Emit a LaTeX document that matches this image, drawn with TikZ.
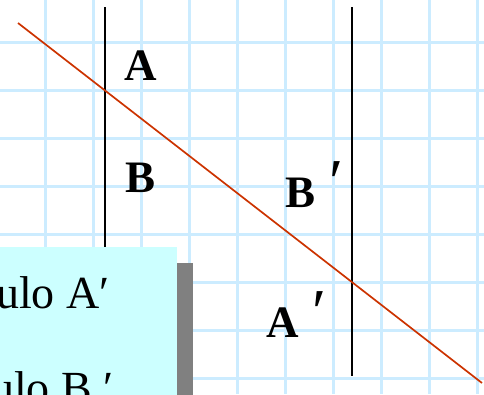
\documentclass[tikz,border=0pt]{standalone}
\usepackage{fontspec}
\setmainfont{Liberation Serif}
\usetikzlibrary{calc}
\definecolor{gridblue}{HTML}{CCECFF}
\definecolor{linered}{HTML}{CC3300}
\definecolor{boxcyan}{HTML}{CCFFFF}
\definecolor{shadowgray}{HTML}{808080}

\newcommand{\bigprime}{\kern3bp\raisebox{0.08em}{\mdseries\fontsize{64bp}{64bp}\selectfont ′}}

\tikzset{
  gridline/.style={gridblue, line width=3bp},
  parline/.style={black, line width=2bp},
  transline/.style={linered, line width=1.7bp},
  anglabel/.style={font=\fontsize{45bp}{45bp}\selectfont\bfseries, inner sep=0pt, anchor=base west},
  boxtext/.style={font=\fontsize{46bp}{46bp}\selectfont, inner sep=0pt, anchor=base west}
}

\begin{document}
\begin{tikzpicture}[x=1bp, y=-1bp]

% Frame
\useasboundingbox (0,0) rectangle (484,394);
\clip (0,0) rectangle (484,394);
\fill[white] (0,0) rectangle (484,394);

% Grid
\foreach \gx in {45,93,...,477}
  \draw[gridline] (\gx,0) -- (\gx,394);
\foreach \gy in {42.7,90.7,...,394}
  \draw[gridline] (0,\gy) -- (484,\gy);

% Parallel lines
\coordinate (Ltop) at (105.3,7.3);
\coordinate (Lbot) at (105.3,375.7);
\coordinate (Rtop) at (352,7.3);
\coordinate (Rbot) at (352,375.7);
\draw[parline] (Ltop) -- (Lbot);
\draw[parline] (Rtop) -- (Rbot);

% Transversal
\coordinate (Tstart) at (18,23);
\coordinate (Tend) at (482,383);
\draw[transline] (Tstart) -- (Tend);

% Angle labels
\node[anglabel] (labA) at (124,80) {A};
\node[anglabel] (labB) at (125,192) {B};
\node[anglabel] (labBp) at (285,207) {B \bigprime};
\node[anglabel] (labAp) at (266,337) {A \bigprime};

% Text box with shadow
\fill[shadowgray] (176.7,262.7) rectangle (192.7,400);
\fill[boxcyan] (-5,246.7) rectangle (176.7,400);
\node[boxtext] (txtA) at (-4,308) {ulo A′};
\node[boxtext] (txtB) at (-9,403) {ulo B ′};

\end{tikzpicture}
\end{document}
